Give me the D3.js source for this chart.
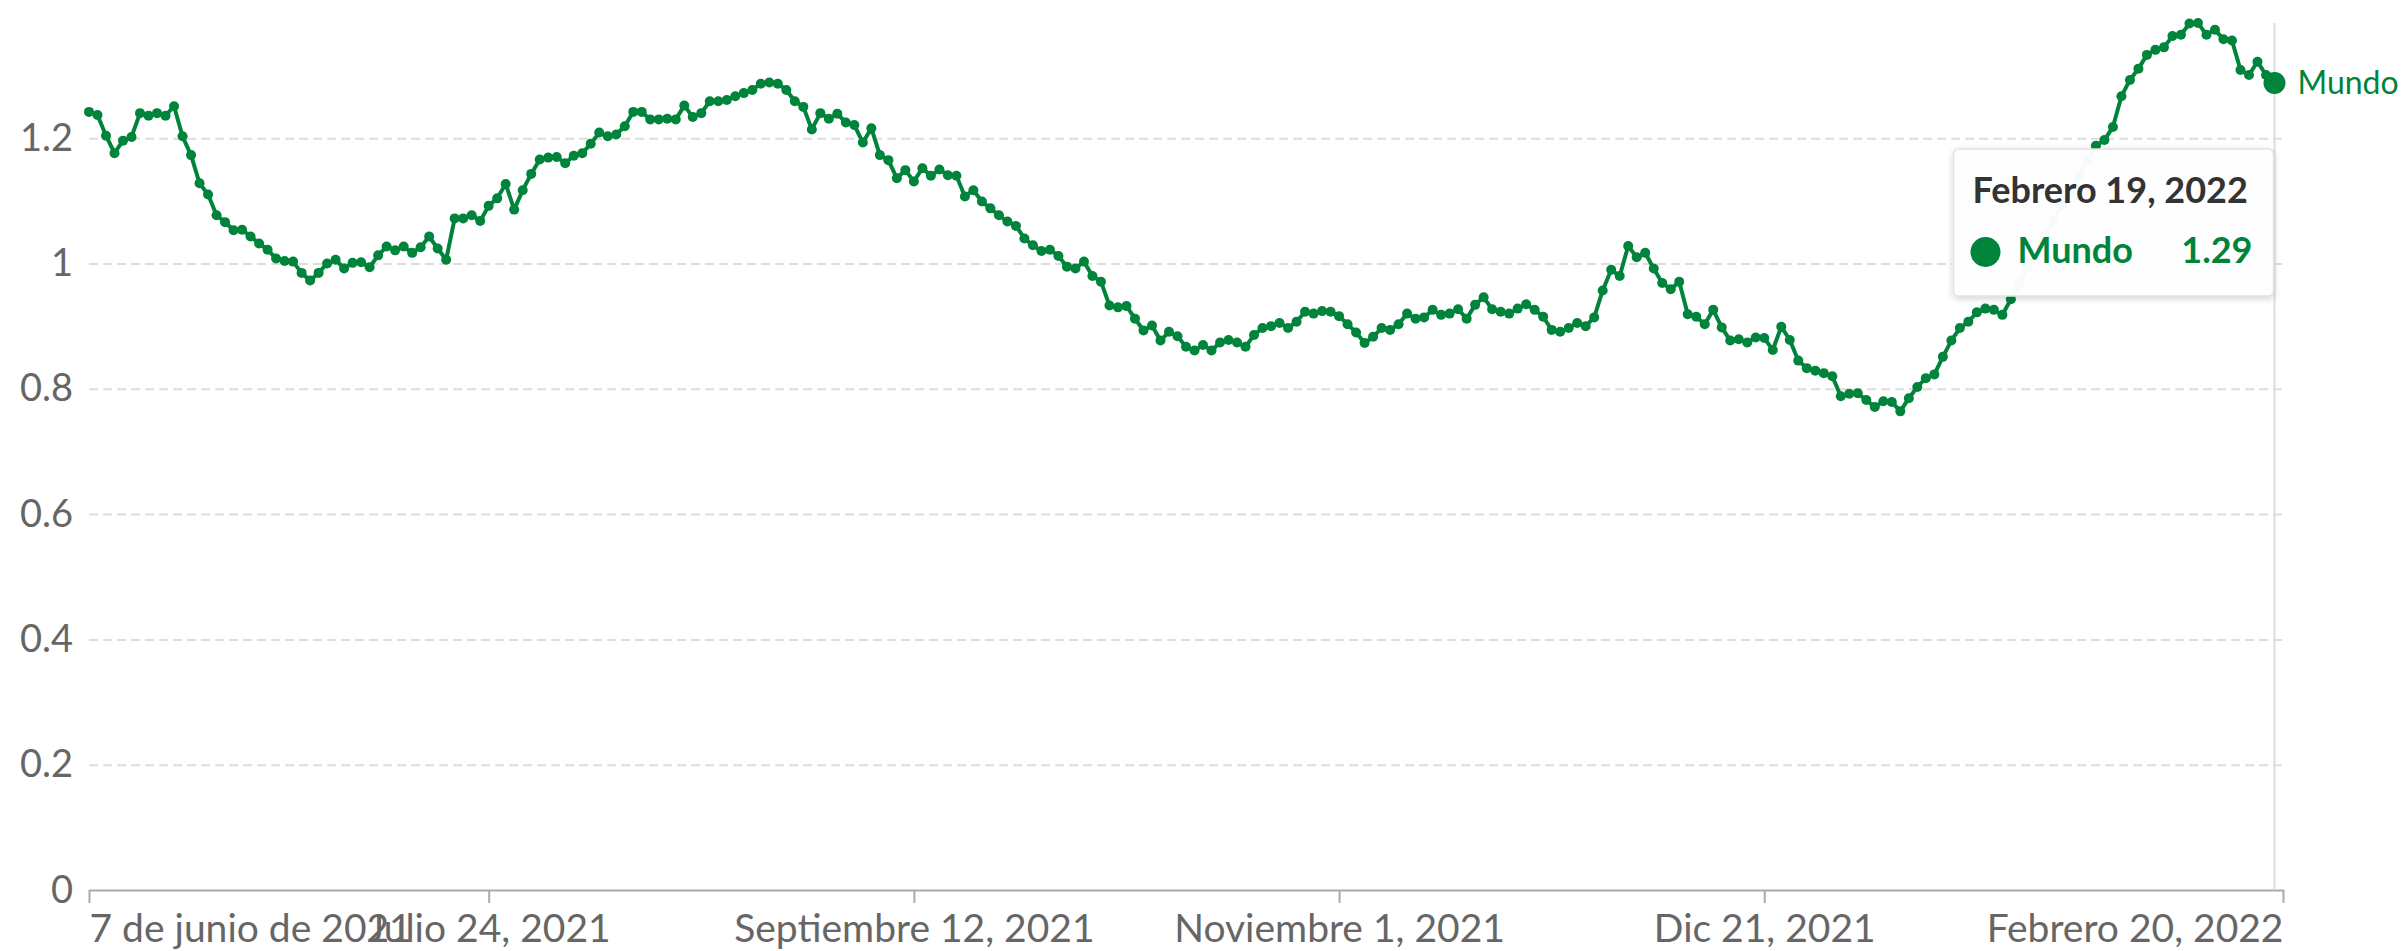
<!DOCTYPE html>
<html>
<head>
<meta charset="utf-8">
<script src="https://cdn.jsdelivr.net/npm/d3@7"></script>
<style>
  body { margin: 0; background: #fff; }
  svg { display: block; font-family: Lato, 'Noto Sans', sans-serif; }
</style>
</head>
<body>
<div id="chart"></div>
<script>
// daily values, Mundo, from 7 June 2021
let startDate = new Date(2021, 5, 7)
let seriesName = 'Mundo'
let values = [
  1.242, 1.237, 1.204, 1.176, 1.196, 1.202, 1.240, 1.236, 1.240, 1.236,
  1.251, 1.203, 1.173, 1.128, 1.110, 1.077, 1.066, 1.053, 1.054, 1.043,
  1.032, 1.022, 1.008, 1.004, 1.003, 0.985, 0.973, 0.985, 1.000, 1.006,
  0.992, 1.001, 1.002, 0.994, 1.013, 1.027, 1.021, 1.027, 1.017, 1.026,
  1.043, 1.024, 1.006, 1.072, 1.072, 1.077, 1.068, 1.092, 1.104, 1.127,
  1.086, 1.117, 1.143, 1.166, 1.169, 1.170, 1.160, 1.172, 1.176, 1.191,
  1.209, 1.203, 1.206, 1.219, 1.242, 1.242, 1.230, 1.230, 1.231, 1.230,
  1.252, 1.234, 1.240, 1.259, 1.259, 1.261, 1.267, 1.272, 1.277, 1.287,
  1.289, 1.287, 1.277, 1.259, 1.250, 1.214, 1.240, 1.231, 1.239, 1.225,
  1.221, 1.193, 1.216, 1.173, 1.165, 1.136, 1.149, 1.131, 1.152, 1.140,
  1.150, 1.141, 1.140, 1.107, 1.117, 1.099, 1.088, 1.077, 1.067, 1.060,
  1.040, 1.029, 1.020, 1.022, 1.012, 0.995, 0.992, 1.003, 0.980, 0.971,
  0.933, 0.930, 0.932, 0.912, 0.893, 0.901, 0.877, 0.891, 0.884, 0.867,
  0.861, 0.870, 0.861, 0.874, 0.878, 0.874, 0.867, 0.886, 0.897, 0.900,
  0.905, 0.897, 0.907, 0.923, 0.920, 0.924, 0.923, 0.916, 0.903, 0.890,
  0.873, 0.883, 0.897, 0.894, 0.903, 0.920, 0.912, 0.914, 0.926, 0.918,
  0.920, 0.927, 0.912, 0.934, 0.946, 0.927, 0.923, 0.920, 0.928, 0.935,
  0.926, 0.915, 0.894, 0.891, 0.897, 0.905, 0.900, 0.914, 0.957, 0.990,
  0.980, 1.028, 1.010, 1.017, 0.992, 0.969, 0.959, 0.971, 0.919, 0.915,
  0.903, 0.926, 0.898, 0.877, 0.879, 0.874, 0.882, 0.881, 0.862, 0.899,
  0.878, 0.845, 0.833, 0.829, 0.825, 0.820, 0.788, 0.792, 0.793, 0.782,
  0.771, 0.780, 0.779, 0.764, 0.785, 0.803, 0.817, 0.823, 0.851, 0.877,
  0.897, 0.907, 0.922, 0.928, 0.926, 0.918, 0.943, 0.968, 0.995, 1.016,
  1.043, 1.069, 1.093, 1.115, 1.139, 1.165, 1.188, 1.197, 1.218, 1.267,
  1.293, 1.311, 1.333, 1.341, 1.345, 1.363, 1.365, 1.383, 1.384, 1.365,
  1.373, 1.358, 1.356, 1.309, 1.301, 1.322, 1.301, 1.288
]

let xTickDates = [
  new Date(2021, 5, 7), new Date(2021, 6, 24), new Date(2021, 8, 12),
  new Date(2021, 10, 1), new Date(2021, 11, 21), new Date(2022, 1, 20)
]
let xTickLabels = [
  '7 de junio de 2021', 'Julio 24, 2021', 'Septiembre 12, 2021',
  'Noviembre 1, 2021', 'Dic 21, 2021', 'Febrero 20, 2022'
]
let yTicks = [0, 0.2, 0.4, 0.6, 0.8, 1, 1.2]
let yTickLabels = ['0', '0.2', '0.4', '0.6', '0.8', '1', '1.2']
let monthNames = ['Enero', 'Febrero', 'Marzo', 'Abril', 'Mayo', 'Junio', 'Julio',
  'Agosto', 'Septiembre', 'Octubre', 'Noviembre', 'Diciembre']

let color = '#00843b'
let grey = '#666'

let data = values.map((v, i) => ({ date: d3.timeDay.offset(startDate, i), value: v }))

let width = 2407, height = 951
let margin = { left: 89, right: 124, top: 22, bottom: 61 }
let plot_bottom = height - margin.bottom
let unit = 626.5

let svg = d3.select('#chart').append('svg')
  .attr('width', width)
  .attr('height', height)

let defs = svg.append('defs')
let shadow = defs.append('filter').attr('id', 'shadow')
  .attr('x', '-10%').attr('y', '-10%').attr('width', '120%').attr('height', '130%')
shadow.append('feDropShadow')
  .attr('dx', 0).attr('dy', 2).attr('stdDeviation', 3)
  .attr('flood-color', '#000').attr('flood-opacity', 0.18)

let xScale = d3.scaleTime()
  .domain([xTickDates[0], xTickDates[xTickDates.length - 1]])
  .range([margin.left, width - margin.right])

let ymax = d3.max(values)
let yScale = d3.scaleLinear()
  .domain([0, ymax])
  .range([plot_bottom, plot_bottom - unit * ymax])

// y grid + labels
let yAxis = d3.axisLeft(yScale)
  .tickValues(yTicks)
  .tickFormat((d, i) => yTickLabels[i])
  .tickSize(-(width - margin.right - margin.left))

let yAxis_container = svg.append('g')
  .attr('class', 'yaxis')
  .attr('transform', `translate(${margin.left},0)`)
  .call(yAxis)

yAxis_container.select('.domain').remove()
yAxis_container.selectAll('.tick line')
  .attr('stroke', '#ddd')
  .attr('stroke-width', 2)
  .attr('stroke-dasharray', '9,5')
  .attr('display', d => d === 0 ? 'none' : null)
yAxis_container.selectAll('.tick text')
  .attr('x', -16)
  .attr('fill', grey)
  .attr('font-size', '38px')
  .attr('font-family', 'Lato')

// x axis
let xAxis = d3.axisBottom(xScale)
  .tickValues(xTickDates)
  .tickFormat((d, i) => xTickLabels[i])
  .tickSize(13)
  .tickSizeOuter(0)

let xAxis_container = svg.append('g')
  .attr('class', 'xaxis')
  .attr('transform', `translate(0,${plot_bottom})`)
  .call(xAxis)

xAxis_container.select('.domain').attr('stroke', '#aaa').attr('stroke-width', 2)
xAxis_container.selectAll('.tick line').attr('stroke', '#aaa').attr('stroke-width', 2)
xAxis_container.selectAll('.tick text')
  .attr('y', 52)
  .attr('dy', null)
  .attr('fill', grey)
  .attr('font-size', '39px')
  .attr('font-family', 'Lato')
  .attr('text-anchor', (d, i) => i === 0 ? 'start' : (i === xTickDates.length - 1 ? 'end' : 'middle'))

// hover line at last point
let last = data[data.length - 1]
svg.append('line')
  .attr('x1', xScale(last.date)).attr('x2', xScale(last.date))
  .attr('y1', yScale(ymax)).attr('y2', plot_bottom)
  .attr('stroke', '#ddd')
  .attr('stroke-width', 2)

// the line
let line = d3.line()
  .x(d => xScale(d.date))
  .y(d => yScale(d.value))

svg.append('path')
  .datum(data)
  .attr('fill', 'none')
  .attr('stroke', color)
  .attr('stroke-width', 4)
  .attr('stroke-linejoin', 'round')
  .attr('d', line)

svg.append('g').selectAll('circle')
  .data(data.slice(0, -1))
  .join('circle')
  .attr('cx', d => xScale(d.date))
  .attr('cy', d => yScale(d.value))
  .attr('r', 5)
  .attr('fill', color)

svg.append('circle')
  .attr('cx', xScale(last.date))
  .attr('cy', yScale(last.value))
  .attr('r', 11)
  .attr('fill', color)

svg.append('text')
  .attr('x', xScale(last.date) + 23)
  .attr('y', yScale(last.value) + 11)
  .attr('fill', color)
  .attr('font-size', '32px')
  .text(seriesName)

// tooltip
let tip = svg.append('g')
  .attr('transform', `translate(${xScale(last.date) - 321},149)`)

tip.append('rect')
  .attr('width', 320)
  .attr('height', 147)
  .attr('rx', 5)
  .attr('fill', 'rgba(255,255,255,0.96)')
  .attr('stroke', '#e2e2e2')
  .attr('stroke-width', 1.5)
  .attr('filter', 'url(#shadow)')

tip.append('text')
  .attr('x', 19)
  .attr('y', 54)
  .attr('fill', '#333')
  .attr('font-size', '36px')
  .attr('font-weight', 700)
  .text(`${monthNames[last.date.getMonth()]} ${last.date.getDate()}, ${last.date.getFullYear()}`)

tip.append('circle')
  .attr('cx', 32)
  .attr('cy', 103)
  .attr('r', 15)
  .attr('fill', color)

tip.append('text')
  .attr('x', 64)
  .attr('y', 114)
  .attr('fill', color)
  .attr('font-size', '36px')
  .attr('font-weight', 700)
  .text(seriesName)

tip.append('text')
  .attr('x', 299)
  .attr('y', 114)
  .attr('text-anchor', 'end')
  .attr('fill', color)
  .attr('font-size', '36px')
  .attr('font-weight', 700)
  .text(d3.format('.2f')(last.value))
</script>
</body>
</html>
